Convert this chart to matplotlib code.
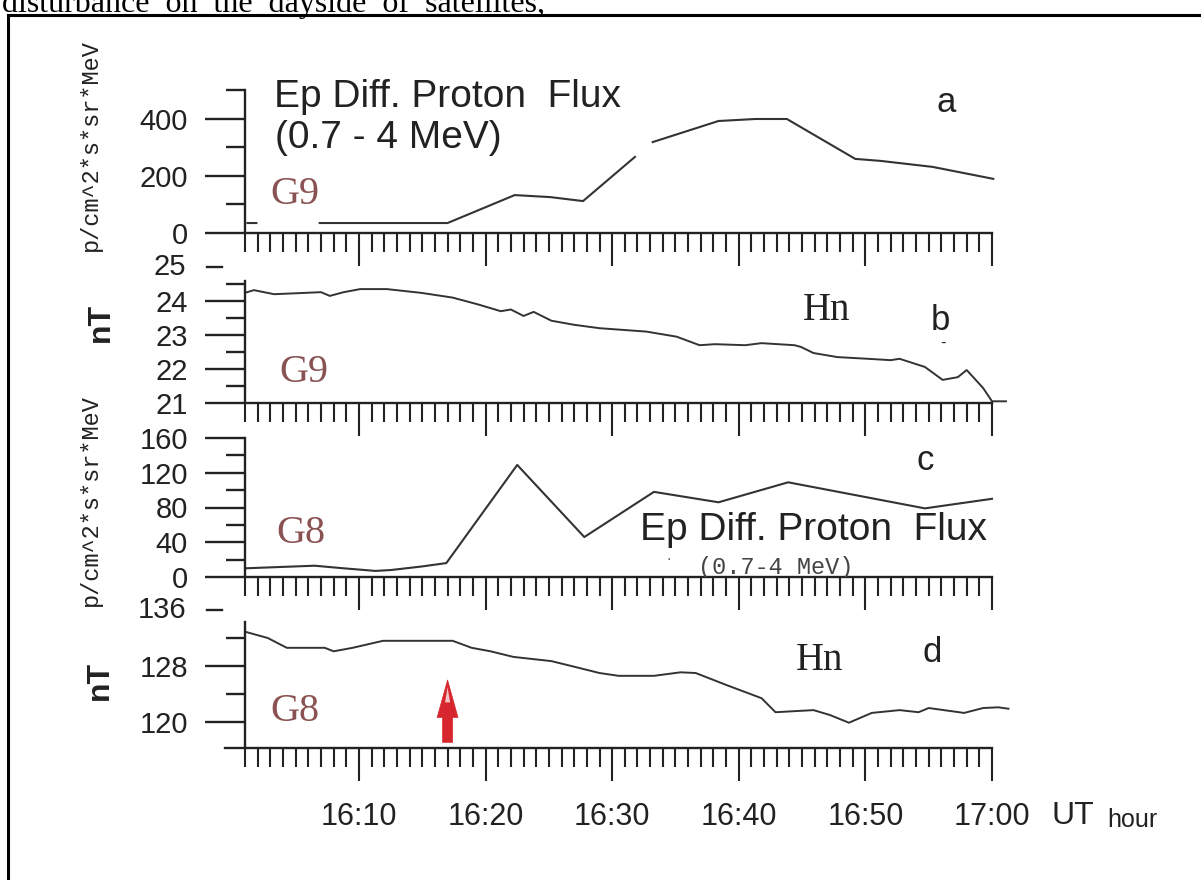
import numpy as np
import matplotlib
matplotlib.use("Agg")
import matplotlib.pyplot as plt
from matplotlib.lines import Line2D

plt.rcParams.update({"font.family": "Liberation Sans", "axes.unicode_minus": False})

nan = np.nan
# czas: minuty po 16:00 UT
T_A = [1.2, 1.9, nan, 6.9, 17.0, 22.3, 25.1, 27.7, 31.8, nan, 33.2, 38.4, 41.3, 43.8,
       49.2, 51.2, 55.3, 60.1]
FLUX_G9 = [35, 35, nan, 35, 35, 133, 126, 112, 267, nan, 319, 393, 400, 400,
           260, 253, 232, 190]

T_B = [1.0, 1.7, 3.3, 5.8, 7.0, 7.7, 8.8, 10.1, 12.2, 14.9, 17.4, 19.4, 21.2, 22.0, 23.0,
       23.8, 25.2, 27.0, 29.0, 32.7, 35.1, 36.9, 38.1, 40.5, 41.8, 44.4, 44.9, 45.9, 47.8,
       50.2, 52.0, 52.7, 54.7, 56.1, 57.3, 58.0, 59.3, 60.0, 61.1]
HN_G9 = [24.24, 24.32, 24.2, 24.24, 24.26, 24.15, 24.26, 24.35, 24.35, 24.24, 24.1, 23.9,
         23.7, 23.75, 23.56, 23.68, 23.42, 23.3, 23.2, 23.1, 22.95, 22.7, 22.73, 22.7, 22.76,
         22.7, 22.65, 22.47, 22.35, 22.3, 22.26, 22.3, 22.06, 21.68, 21.76, 21.97, 21.44,
         21.05, 21.05]

T_C = [1.0, 6.5, 8.8, 11.3, 12.5, 14.9, 16.9, 22.5, 27.8, 33.3, 38.4, 43.9, 54.7, 60.0]
FLUX_G8 = [10, 13, 10, 7, 8, 12, 16, 129, 46, 98, 86, 109, 79, 90]

T_D = [1.0, 2.8, 4.3, 7.3, 8.0, 9.5, 11.9, 17.4, 18.9, 20.4, 22.2, 25.2, 27.0, 29.0, 30.5,
       33.3, 35.4, 36.6, 39.0, 41.8, 42.9, 45.9, 47.2, 48.7, 50.5, 52.7, 54.2, 55.0, 57.8,
       59.3, 60.5, 61.3]
HN_G8 = [132.9, 132.0, 130.6, 130.6, 130.1, 130.6, 131.6, 131.6, 130.6, 130.1, 129.3, 128.7,
         127.9, 127.0, 126.6, 126.6, 127.1, 127.0, 125.3, 123.4, 121.4, 121.7, 121.0, 119.9,
         121.3, 121.7, 121.4, 122.0, 121.3, 122.0, 122.1, 121.9]

HOUR_TICKS = [10, 20, 30, 40, 50, 60]
HOUR_LABELS = ["16:10", "16:20", "16:30", "16:40", "16:50", "17:00"]
MINUTE_TICKS = [m for m in range(1, 60) if m % 10]
ARROW_T = 17.0

W, H = 1201, 880
INK = "#222222"
GCOL = "#8a5252"
RED = "#d7262e"
fig = plt.figure(figsize=(W / 100, H / 100), dpi=100)


def px_axes(x0, y_top, x1, y_bot):
    return fig.add_axes([x0 / W, 1 - y_bot / H, (x1 - x0) / W, (y_bot - y_top) / H])


def ftext(x, y, s, **kw):
    kw.setdefault("va", "center")
    kw.setdefault("color", INK)
    return fig.text(x / W, 1 - y / H, s, **kw)


def style(ax, ylim, major, minor, top=None, labels=False):
    ax.set_facecolor("none")
    ax.set_xlim(1, 60)
    ax.set_ylim(*ylim)
    for s in ("top", "right"):
        ax.spines[s].set_visible(False)
    for s in ("left", "bottom"):
        ax.spines[s].set_linewidth(1.7)
        ax.spines[s].set_color(INK)
    if top is not None:
        ax.spines["left"].set_bounds(ylim[0], top)
    ax.set_yticks(major)
    ax.set_yticks(minor, minor=True)
    ax.set_xticks(HOUR_TICKS)
    ax.set_xticks(MINUTE_TICKS, minor=True)
    ax.tick_params(axis="y", which="major", length=29, width=1.7, color=INK, pad=12,
                   labelsize=21, labelcolor=INK)
    ax.tick_params(axis="y", which="minor", length=14, width=1.7, color=INK)
    ax.tick_params(axis="x", which="major", length=24, width=1.5, color=INK, pad=15,
                   labelsize=22, labelcolor=INK, labelbottom=labels)
    ax.tick_params(axis="x", which="minor", length=13.5, width=1.5, color=INK)
    if labels:
        ax.set_xticklabels(HOUR_LABELS)


def detached_tick(ax, val, lab):
    tr = ax.get_yaxis_transform()
    ax.plot([-0.051, -0.031], [val, val], transform=tr, color=INK, lw=1.7, clip_on=False)
    ax.text(-0.079, val, lab, transform=tr, ha="right", va="center", fontsize=21,
            color=INK, clip_on=False)


ax_a = px_axes(245, 90.5, 992, 233)
style(ax_a, (0, 500), [0, 200, 400], [100, 300, 500])
ax_a.plot(T_A, FLUX_G9, color="#333333", lw=1.5, clip_on=False)

ax_b = px_axes(245, 267, 992, 403)
style(ax_b, (21, 25), [21, 22, 23, 24], [21.5, 22.5, 23.5, 24.5], top=24.6)
ax_b.plot(T_B, HN_G9, color="#333333", lw=1.4, clip_on=False)
detached_tick(ax_b, 25, "25")

ax_c = px_axes(245, 438, 992, 577)
style(ax_c, (0, 160), [0, 40, 80, 120, 160], [20, 60, 100, 140])
ax_c.plot(T_C, FLUX_G8, color="#333333", lw=1.5, clip_on=False)
ax_c.text(36.8, 24, "(0.7-4 MeV)", family="Liberation Mono", fontsize=17, va="top",
          ha="left", color="#444444", clip_on=True)
ax_c.text(34.5, 19, ".", fontsize=12, color="#666666", ha="center")

ax_d = px_axes(245, 610, 992, 748)
style(ax_d, (116.29, 136), [120, 128], [124, 132], top=134.3, labels=True)
ax_d.plot(T_D, HN_G8, color="#333333", lw=1.4, clip_on=False)
detached_tick(ax_d, 136, "136")
ax_d.plot([-0.027, 0], [0, 0], transform=ax_d.transAxes, color=INK, lw=1.7, clip_on=False)
ax_d.annotate("", xy=(ARROW_T, 126.0), xytext=(ARROW_T, 117.1),
              arrowprops=dict(arrowstyle="simple,head_length=2.7,head_width=1.5,tail_width=0.72",
                              mutation_scale=10, fc=RED, ec=RED, lw=0.5,
                              shrinkA=0, shrinkB=0))
ax_d.fill([ARROW_T - 0.2, ARROW_T, ARROW_T + 0.2], [122.8, 125.0, 122.8],
          color="#f2c4c4", lw=0, zorder=6)

# opisy osi
ftext(90, 145, "p/cm^2*s*sr*MeV", rotation=90, ha="center", family="Liberation Mono",
      fontsize=17)
ftext(90, 500, "p/cm^2*s*sr*MeV", rotation=90, ha="center", family="Liberation Mono",
      fontsize=17)
ftext(101, 322, "nT", rotation=90, ha="center", fontsize=23, fontweight="bold")
ftext(100, 680, "nT", rotation=90, ha="center", fontsize=23, fontweight="bold")

ftext(274, 97, "Ep Diff. Proton  Flux", fontsize=28)
ftext(275, 138, "(0.7 - 4 MeV)", fontsize=28)
ftext(640, 530, "Ep Diff. Proton  Flux", fontsize=28)

for x, y, s in [(946, 103, "a"), (940, 321, "b"), (925, 461, "c"), (932, 652, "d")]:
    ftext(x, y, s, ha="center", fontsize=25)
ftext(943, 343, "-", ha="center", fontsize=12)
ftext(827, 310, "Hn", ha="center", family="Liberation Serif", fontsize=28)
ftext(820, 660, "Hn", ha="center", family="Liberation Serif", fontsize=28)
for x, y, s in [(270, 194, "G9"), (279, 373, "G9"), (276, 533, "G8"), (270, 711, "G8")]:
    ftext(x, y, s, family="Liberation Serif", fontsize=29, color=GCOL)

ftext(1051, 816, "UT", fontsize=23)
ftext(1107, 820, "hour", fontsize=18)

# ramka i urwany tekst strony
fig.add_artist(Line2D([8 / W, 8 / W], [0, 1 - 15 / H], transform=fig.transFigure,
                      color="black", lw=2.2))
fig.add_artist(Line2D([8 / W, 1], [1 - 15 / H, 1 - 15 / H], transform=fig.transFigure,
                      color="black", lw=2.2))
fig.text(2 / W, 1 - 12 / H, "disturbance  on  the  dayside  of  satellites,",
         family="Liberation Serif", fontsize=23, va="baseline", color="black")

fig.savefig("out.png", dpi=100)
